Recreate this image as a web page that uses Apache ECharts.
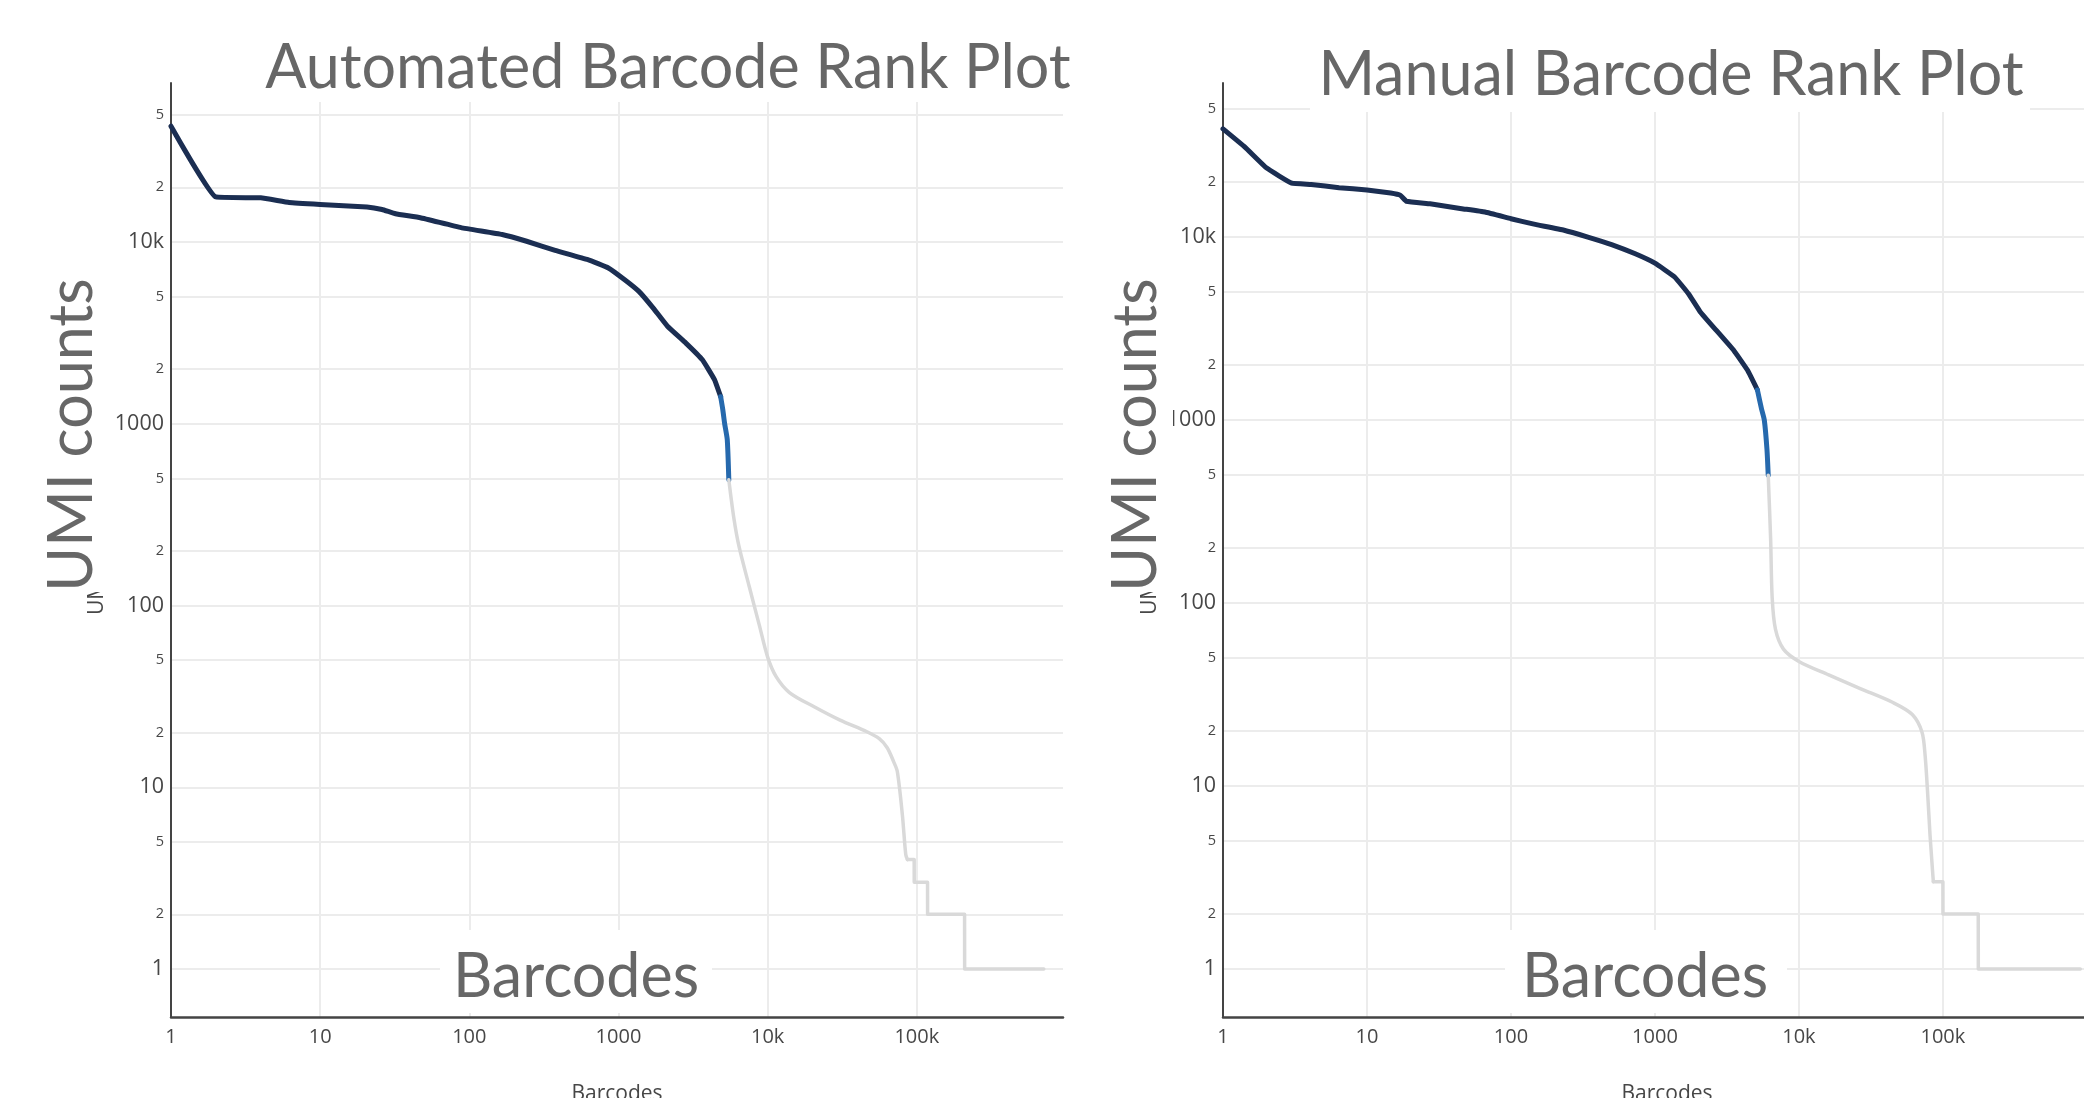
<!DOCTYPE html>
<html>
<head>
<meta charset="utf-8">
<script src="https://cdn.jsdelivr.net/npm/echarts@6/dist/echarts.min.js"></script>
<style>
  html, body { margin: 0; padding: 0; background: #ffffff; }
  #chart { width: 2084px; height: 1098px; }
</style>
</head>
<body>
<div id="chart"></div>
<script>
// ---------- tick values / labels ----------
const xTickValues = [1, 10, 100, 1000, 10000, 100000];
const xTickLabels = ['1', '10', '100', '1000', '10k', '100k'];
const yTickValues = [1, 2, 5, 10, 20, 50, 100, 200, 500, 1000, 2000, 5000, 10000, 20000, 50000];
const yTickLabels = ['1', '2', '5', '10', '2', '5', '100', '2', '5', '1000', '2', '5', '10k', '2', '5'];

// ---------- Automated Barcode Rank Plot: [barcode rank, UMI count] ----------
const autoCells = [[1,43400],[2,17700],[4,17500],[6.2,16500],[10,16100],[20.6,15600],[26,15100],[32,14300],[47,13600],
  [88,12000],[166,11000],[242,10100],[376,9000],[623,8000],[855,7200],[1100,6200],[1370,5350],[1710,4330],
  [2130,3440],[2830,2780],[3650,2250],[4400,1750],[4840,1410]];
const autoMixed = [[4840,1410],[5000,1200],[5150,1000],[5360,819],[5490,492]];
const autoBackground = [[5490,492],[5940,301],[6420,212],[7510,128],[8790,78],[10000,52],[11400,40.6],[14000,33.2],
  [20200,27.9],[30600,23.4],[46300,20.2],[56000,18.5],[63300,16.5],[70000,13.8],[74000,12.2],[80000,7.05],[84300,4.27],[86500,4]];
const autoSteps = [[86500,4],[96000,4],[96100,3],[118000,3],[118100,2],[209000,2],[209200,1],[710000,1]];

// ---------- Manual Barcode Rank Plot: [barcode rank, UMI count] ----------
const manualCells = [[1,39000],[1.42,31000],[2,23900],[3,19700],[4.1,19400],[6.4,18600],[10,18100],[14.6,17400],
  [17.1,16900],[18.8,15700],[27.4,15200],[45.5,14300],[66,13700],[100,12600],[142,11800],[234,10900],[342,10000],
  [500,9100],[730,8100],[1000,7200],[1370,6050],[1710,4900],[2065,3900],[2660,3100],[3530,2400],[4400,1870],[5150,1460]];
const manualMixed = [[5150,1460],[5500,1150],[5750,1000],[6000,690],[6120,500]];
const manualBackground = [[6120,500],[6360,225],[6520,107],[6870,72],[7810,56],[10000,48],[16100,40.5],[26900,34],
  [45000,28.6],[61300,24.6],[71600,19.7],[75300,14.6],[78500,8.9],[81400,5.4],[83600,4],[85800,3]];
const manualSteps = [[85800,3],[100000,3],[100100,2],[176000,2],[176200,1],[900000,1]];

const COLOR_CELLS = '#1b2e52';
const COLOR_MIXED = '#2669ad';
const COLOR_BG = '#d9d9d9';
const TEXT_BIG = '#676767';
const TICK_COLOR = '#474747';

function xLabel(v) {
  const i = xTickValues.findIndex(t => Math.abs(t - v) / t < 1e-6);
  return i >= 0 ? xTickLabels[i] : '';
}
function yLabel(v) {
  const i = yTickValues.findIndex(t => Math.abs(t - v) / t < 1e-6);
  if (i < 0) return '';
  const s = yTickLabels[i];
  return (s === '2' || s === '5') ? '{s|' + s + '}' : '{b|' + s + '}';
}

function makeX(gridIndex) {
  return {
    type: 'log', logBase: 10, gridIndex: gridIndex,
    min: 1, max: Math.pow(10, 5.98),
    axisLine: { show: true, lineStyle: { color: '#444', width: 2.5 } },
    axisTick: { show: false, customValues: xTickValues },
    axisLabel: {
      customValues: xTickValues, formatter: xLabel, margin: 10,
      fontFamily: 'Open Sans', fontSize: 20, color: TICK_COLOR
    },
    splitLine: { show: true, lineStyle: { color: '#ececec', width: 2 } },
    minorTick: { show: false }, minorSplitLine: { show: false }
  };
}
function makeY(gridIndex, logMin, logMax) {
  return {
    type: 'log', logBase: 10, gridIndex: gridIndex,
    min: Math.pow(10, logMin), max: Math.pow(10, logMax),
    axisLine: { show: true, lineStyle: { color: '#444', width: 2 } },
    axisTick: { show: false, customValues: yTickValues },
    axisLabel: {
      customValues: yTickValues, formatter: yLabel, margin: 7,
      color: TICK_COLOR,
      rich: {
        b: { fontFamily: 'Open Sans', fontSize: 21.5, color: TICK_COLOR },
        s: { fontFamily: 'Open Sans', fontSize: 14.5, color: TICK_COLOR }
      }
    },
    splitLine: { show: true, lineStyle: { color: '#ececec', width: 2 } },
    minorTick: { show: false }, minorSplitLine: { show: false }
  };
}
function line(name, data, color, width, xi, yi, smooth) {
  return {
    type: 'line', name: name, data: data, xAxisIndex: xi, yAxisIndex: yi,
    showSymbol: false, symbol: 'none', smooth: smooth, z: 5,
    lineStyle: { color: color, width: width, cap: 'round', join: 'round' }
  };
}

function bigText(text, x, y, rot) {
  return {
    type: 'text', x: x, y: y, rotation: rot || 0, z: 120,
    style: { text: text, fontFamily: 'Lato', fontSize: 61, fill: TEXT_BIG, align: 'center', verticalAlign: 'middle' }
  };
}
function whiteRect(x, y, w, h) {
  return { type: 'rect', shape: { x: x, y: y, width: w, height: h }, z: 110, style: { fill: '#ffffff' } };
}
function smallText(text, x, y, rot, align, va) {
  return {
    type: 'text', x: x, y: y, rotation: rot || 0, z: 105,
    style: { text: text, fontFamily: 'Open Sans', fontSize: 21, fill: TICK_COLOR, align: align, verticalAlign: va }
  };
}

const chart = echarts.init(document.getElementById('chart'), null, { renderer: 'canvas' });
chart.setOption({
  animation: false,
  backgroundColor: '#ffffff',
  grid: [
    { left: 171, top: 83, width: 892, height: 934 },
    { left: 1223, top: 83, width: 892, height: 934 }
  ],
  xAxis: [makeX(0), makeX(1)],
  yAxis: [makeY(0, -0.264, 4.875), makeY(1, -0.262, 4.842)],
  series: [
    line('Cells', autoCells, COLOR_CELLS, 5, 0, 0, 0.1),
    line('Mixed', autoMixed, COLOR_MIXED, 5, 0, 0, 0.2),
    line('Background', autoBackground, COLOR_BG, 3.5, 0, 0, 0.3),
    line('Background', autoSteps, COLOR_BG, 3.5, 0, 0, false),
    line('Cells', manualCells, COLOR_CELLS, 5, 1, 1, 0.1),
    line('Mixed', manualMixed, COLOR_MIXED, 5, 1, 1, 0.2),
    line('Background', manualBackground, COLOR_BG, 3.5, 1, 1, 0.3),
    line('Background', manualSteps, COLOR_BG, 3.5, 1, 1, false)
  ],
  graphic: [
    // original small axis titles (mostly hidden)
    smallText('UMI counts', 97, 615, Math.PI / 2, 'left', 'middle'),
    smallText('UMI counts', 1150, 615, Math.PI / 2, 'left', 'middle'),
    smallText('Barcodes', 617, 1084, 0, 'center', 'top'),
    smallText('Barcodes', 1667, 1084, 0, 'center', 'top'),
    // white boxes behind large labels
    whiteRect(240, 0, 845, 102),
    whiteRect(1310, 0, 720, 112),
    whiteRect(30, 262, 78, 330),
    whiteRect(1093, 262, 80, 330),
    whiteRect(440, 930, 272, 83),
    whiteRect(1505, 930, 282, 83),
    // large labels
    bigText('Automated Barcode Rank Plot', 668, 68),
    bigText('Manual Barcode Rank Plot', 1671, 75),
    bigText('UMI counts', 72, 435, Math.PI / 2),
    bigText('UMI counts', 1136, 435, Math.PI / 2),
    bigText('Barcodes', 576, 977),
    bigText('Barcodes', 1645, 977)
  ]
});
</script>
</body>
</html>
